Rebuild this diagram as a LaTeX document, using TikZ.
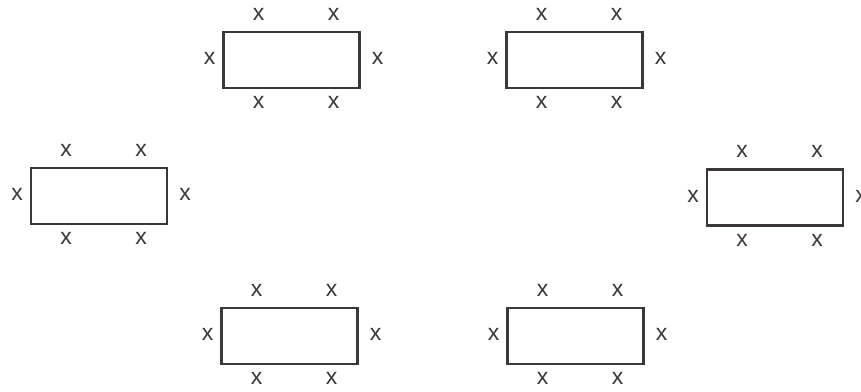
\documentclass[tikz,border=0pt]{standalone}
\usepackage{fontspec}
\setmainfont{Liberation Sans}
\usetikzlibrary{calc}
\definecolor{linegray}{HTML}{3C3838}
\definecolor{textgray}{HTML}{3A3838}
\begin{document}
\begin{tikzpicture}[x=1pt,y=-1pt,
  tbox/.style={draw=linegray, line width=2.2pt, minimum width=136pt, minimum height=56pt, inner sep=0pt, outer sep=0pt},
  xlab/.style={text=textgray, font=\fontsize{23}{23}\selectfont, inner sep=0pt, text height=1ex, text depth=0pt}]
\useasboundingbox (0,0) rectangle (861,391);
\foreach \n/\cx/\cy in {r1/291.5/60, r2/574.5/60, r3/99/196, r4/775/197.5, r5/289.5/336, r6/575.5/336}{
  \node[tbox] (\n) at (\cx,\cy) {};
  \node[xlab] (\n-t1) at ($(\n.north west)+(35,-14.5)$) {x};
  \node[xlab] (\n-t2) at ($(\n.north west)+(110,-14.5)$) {x};
  \node[xlab] (\n-b1) at ($(\n.south west)+(35,18)$) {x};
  \node[xlab] (\n-b2) at ($(\n.south west)+(110,18)$) {x};
  \node[xlab] (\n-l) at ($(\n.west)+(-14,2)$) {x};
  \node[xlab] (\n-r) at ($(\n.east)+(18,2)$) {x};
}
\end{tikzpicture}
\end{document}
